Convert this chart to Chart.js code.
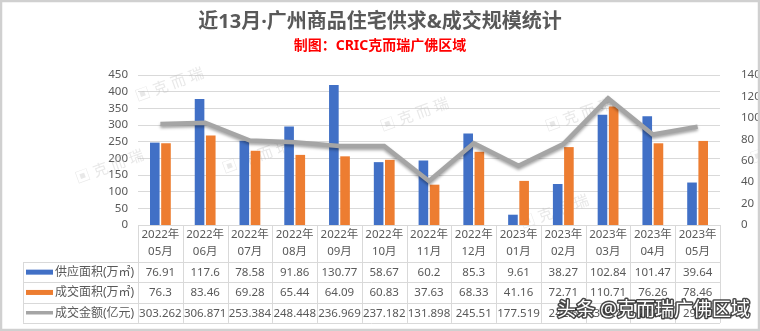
<!DOCTYPE html>
<html>
<head>
<meta charset="utf-8">
<script src="https://cdn.jsdelivr.net/npm/chart.js@4.4.1/dist/chart.umd.min.js"></script>
<style>
  html, body { margin: 0; padding: 0; background: #fff; }
  #wrap { width: 760px; height: 331px; }
</style>
</head>
<body>
<div id="wrap"><canvas id="chart"></canvas></div>
<script>
const years = ['2022年', '2022年', '2022年', '2022年', '2022年', '2022年', '2022年', '2022年', '2023年', '2023年', '2023年', '2023年', '2023年'];
const months = ['05月', '06月', '07月', '08月', '09月', '10月', '11月', '12月', '01月', '02月', '03月', '04月', '05月'];
const supply = [76.91, 117.6, 78.58, 91.86, 130.77, 58.67, 60.2, 85.3, 9.61, 38.27, 102.84, 101.47, 39.64];
const dealArea = [76.3, 83.46, 69.28, 65.44, 64.09, 60.83, 37.63, 68.33, 41.16, 72.71, 110.71, 76.26, 78.46];
const dealAmount = [303.262, 306.871, 253.384, 248.448, 236.969, 237.182, 131.898, 245.51, 177.519, 242.6, 379.8, 271.4, 295.2];
const leftTicks = [0, 50, 100, 150, 200, 250, 300, 350, 400, 450];
const rightTicks = [0, 20, 40, 60, 80, 100, 120, 140];

const BLUE = '#4170c6';
const ORANGE = '#ed7d31';
const GRAY = '#a5a5a5';
const TXT = '#595959';
const GRID = '#d9d9d9';
const FONT = '"Noto Sans", "Noto Sans CJK SC", sans-serif';

const labels = months.map((m, i) => years[i] + m);

const rows = [
    { name: '供应面积(万㎡)', color: BLUE, kind: 'bar', values: supply },
    { name: '成交面积(万㎡)', color: ORANGE, kind: 'bar', values: dealArea },
    { name: '成交金额(亿元)', color: GRAY, kind: 'line', values: dealAmount },
];

// faint "克 而 瑞" stamps, as in the source image
const stamps = [[175, 88], [115, 170], [262, 160], [420, 118], [585, 118], [560, 215], [790, 150]];

const stampPlugin = {
    id: 'stamps',
    beforeDatasetsDraw(chart) {
        const ctx = chart.ctx;
        ctx.save();
        ctx.fillStyle = 'rgba(190,190,190,0.35)';
        ctx.font = '15px ' + FONT;
        stamps.forEach(([x, y]) => {
            ctx.save();
            ctx.translate(x, y);
            ctx.rotate(-0.35);
            ctx.fillText('▣ 克 而 瑞', -40, 0);
            ctx.restore();
        });
        ctx.restore();
    }
};

// data table under the plot, columns follow the x scale
const tablePlugin = {
    id: 'dataTable',
    afterDraw(chart) {
        const { ctx, chartArea: a } = chart;
        const n = labels.length;
        const w = (a.right - a.left) / n;
        const top = a.bottom;
        const hdrH = 37;
        const rowH = 20.3;
        const legLeft = 23;
        const bottom = top + hdrH + rowH * rows.length;

        ctx.save();
        ctx.strokeStyle = GRID;
        ctx.lineWidth = 1;
        ctx.beginPath();
        ctx.moveTo(a.left, top + 0.5);
        ctx.lineTo(a.right, top + 0.5);
        for (let r = 0; r <= rows.length; r++) {
            const y = Math.round(top + hdrH + r * rowH) + 0.5;
            ctx.moveTo(legLeft, y);
            ctx.lineTo(a.right, y);
        }
        for (let i = 0; i <= n; i++) {
            const x = Math.round(a.left + i * w) + 0.5;
            ctx.moveTo(x, top);
            ctx.lineTo(x, bottom);
        }
        ctx.moveTo(legLeft + 0.5, top + hdrH);
        ctx.lineTo(legLeft + 0.5, bottom);
        ctx.stroke();

        ctx.fillStyle = TXT;
        ctx.textAlign = 'center';
        ctx.textBaseline = 'middle';
        ctx.font = '11.5px ' + FONT;
        for (let i = 0; i < n; i++) {
            const cx = chart.scales.x.getPixelForValue(i);
            ctx.fillText(years[i], cx, top + 10);
            ctx.fillText(months[i], cx, top + 27);
        }
        rows.forEach((row, r) => {
            const cy = top + hdrH + r * rowH + rowH / 2;
            row.values.forEach((v, i) => {
                ctx.fillText(String(v), chart.scales.x.getPixelForValue(i), cy + 0.5);
            });
            if (row.kind === 'bar') {
                ctx.fillStyle = row.color;
                ctx.fillRect(26, cy - 2.5, 27, 5);
            } else {
                ctx.strokeStyle = row.color;
                ctx.lineWidth = 3.5;
                ctx.beginPath();
                ctx.moveTo(26, cy);
                ctx.lineTo(53, cy);
                ctx.stroke();
            }
            ctx.fillStyle = TXT;
            ctx.textAlign = 'left';
            ctx.font = '12px ' + FONT;
            ctx.fillText(row.name, 55, cy + 0.5);
            ctx.textAlign = 'center';
            ctx.font = '11.5px ' + FONT;
        });

        // outer frame
        ctx.strokeStyle = '#d0d0d0';
        ctx.strokeRect(0.5, 0.5, chart.width - 1, chart.height - 1);

        // toutiao watermark
        ctx.font = '19px ' + FONT;
        ctx.textAlign = 'left';
        ctx.lineJoin = 'round';
        ctx.lineWidth = 3;
        ctx.strokeStyle = 'rgba(40,40,40,0.85)';
        ctx.strokeText('头条 @克而瑞广佛区域', 557, 311);
        ctx.fillStyle = '#fff';
        ctx.fillText('头条 @克而瑞广佛区域', 557, 311);
        ctx.restore();
    }
};

// soft shadow under the gray line
const lineShadow = {
    id: 'lineShadow',
    beforeDatasetDraw(chart, args) {
        if (args.meta.type !== 'line') return;
        const ctx = chart.ctx;
        ctx.save();
        ctx.shadowColor = 'rgba(0,0,0,0.35)';
        ctx.shadowBlur = 3;
        ctx.shadowOffsetY = 2;
    },
    afterDatasetDraw(chart, args) {
        if (args.meta.type !== 'line') return;
        chart.ctx.restore();
    }
};

const ctx = document.getElementById('chart').getContext('2d');

const config = {
    type: 'bar',
    data: {
        labels: labels,
        datasets: [
            {
                label: rows[0].name,
                data: supply,
                backgroundColor: BLUE,
                yAxisID: 'y1',
                categoryPercentage: 0.5,
                barPercentage: 0.86,
                order: 1,
            },
            {
                label: rows[1].name,
                data: dealArea,
                backgroundColor: ORANGE,
                yAxisID: 'y1',
                categoryPercentage: 0.5,
                barPercentage: 0.86,
                order: 1,
            },
            {
                type: 'line',
                label: rows[2].name,
                data: dealAmount,
                borderColor: GRAY,
                borderWidth: 4.5,
                pointRadius: 0,
                tension: 0,
                yAxisID: 'y',
                order: 0,
            }
        ]
    },
    options: {
        responsive: true,
        maintainAspectRatio: false,
        animation: false,
        layout: {
            padding: { top: 0, left: 0, right: 0, bottom: 106 },
        },
        plugins: {
            legend: { display: false },
            tooltip: { enabled: false },
            title: {
                display: true,
                text: '近13月·广州商品住宅供求&成交规模统计',
                color: TXT,
                font: { family: FONT, size: 20, weight: 'bold' },
                padding: { top: 10, bottom: 0 },
            },
            subtitle: {
                display: true,
                text: '制图：CRIC克而瑞广佛区域',
                color: '#ff0000',
                font: { family: FONT, size: 14, weight: 'bold' },
                padding: { top: 4, bottom: 20.2 },
            },
        },
        scales: {
            x: {
                ticks: { display: false },
                grid: { display: false },
                border: { display: false },
                afterFit: s => { s.height = 0; },
            },
            y: {
                position: 'left',
                min: 0,
                max: 450,
                afterBuildTicks: s => { s.ticks = leftTicks.map(v => ({ value: v })); },
                afterFit: s => { s.width = 138; },
                ticks: { color: TXT, padding: 10, autoSkip: false, font: { family: FONT, size: 11.5 } },
                grid: { color: GRID, drawTicks: false },
                border: { display: false },
            },
            y1: {
                position: 'right',
                min: 0,
                max: 140,
                afterBuildTicks: s => { s.ticks = rightTicks.map(v => ({ value: v })); },
                afterFit: s => { s.width = 40; },
                ticks: { color: TXT, padding: 13, autoSkip: false, font: { family: FONT, size: 11.5 } },
                grid: { display: false },
                border: { display: false },
            },
        },
    },
    plugins: [stampPlugin, tablePlugin, lineShadow],
};

const myChart = new Chart(ctx, config);
</script>
</body>
</html>
